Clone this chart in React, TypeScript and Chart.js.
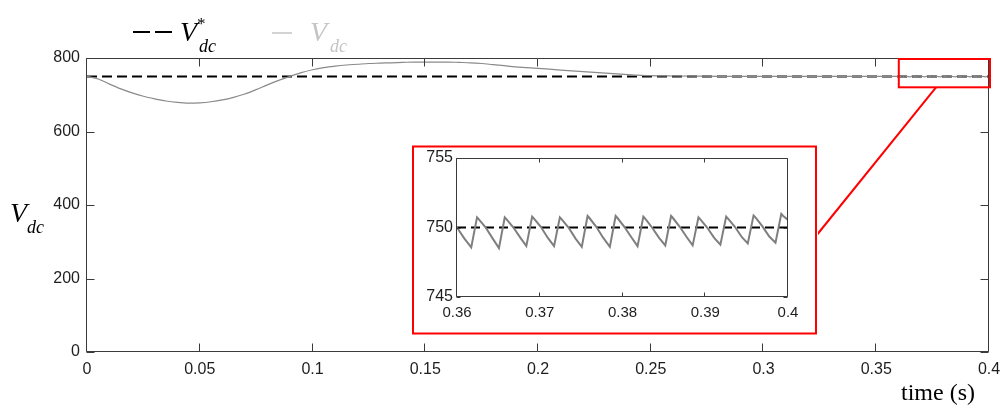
import React, { useEffect, useRef } from "react";
import { Chart, registerables } from "chart.js";

Chart.register(...registerables);

// DC-link voltage response (V) over time (s)
const mainTime = [
  0, 0.005, 0.01, 0.015, 0.02, 0.025, 0.03, 0.035, 0.04, 0.045, 0.05, 0.055, 0.06, 0.065, 0.07,
  0.075, 0.08, 0.085, 0.09, 0.095, 0.1, 0.105, 0.11, 0.115, 0.12, 0.125, 0.13, 0.135, 0.14, 0.145,
  0.15, 0.155, 0.16, 0.165, 0.17, 0.175, 0.18, 0.185, 0.19, 0.195, 0.2, 0.21, 0.22, 0.23, 0.24,
  0.25, 0.26, 0.27, 0.28, 0.29, 0.3, 0.31, 0.32, 0.33, 0.34, 0.35,
];
const mainVolt = [
  750, 743, 729, 716, 705, 696, 689, 683, 679, 677, 678, 681, 686, 693, 702,
  714, 727, 739, 750, 760, 768, 774, 778, 781, 783, 785, 786, 787, 788, 789,
  789, 789, 789, 788, 787, 785, 782, 779, 776, 774, 772, 767, 763, 759, 755,
  752, 751, 750.5, 750.2, 750, 750, 750, 750, 750, 750, 750,
];

// Steady-state ripple, 0.36 s to 0.4 s
const rippleTime = [
  0.36, 0.3609, 0.36172, 0.36242, 0.36262, 0.36347, 0.36432,
  0.36507, 0.36577, 0.36597, 0.36682, 0.36767,
  0.36838, 0.36908, 0.36928, 0.37013, 0.37098,
  0.37173, 0.37243, 0.37263, 0.37348, 0.37433,
  0.37508, 0.37578, 0.37598, 0.37683, 0.37768,
  0.37847, 0.37917, 0.37937, 0.38022, 0.38107,
  0.38182, 0.38252, 0.38272, 0.38357, 0.38442,
  0.38517, 0.38587, 0.38607, 0.38692, 0.38777,
  0.38848, 0.38918, 0.38938, 0.39023, 0.39108,
  0.39183, 0.39253, 0.39273, 0.39358, 0.39443,
  0.39514, 0.39584, 0.39604, 0.39689, 0.39774,
  0.39849, 0.39919, 0.39939, 0.4,
];
const rippleVolt = [
  750.0, 749.2, 748.57, 750.73, 750.6, 750.0, 749.2,
  748.52, 750.73, 750.6, 750.0, 749.25,
  748.66, 750.78, 750.65, 750.05, 749.25,
  748.66, 750.73, 750.6, 750.0, 749.2,
  748.61, 750.83, 750.7, 750.05, 749.25,
  748.61, 750.83, 750.7, 750.05, 749.3,
  748.66, 750.78, 750.65, 750.0, 749.25,
  748.71, 750.83, 750.7, 750.05, 749.3,
  748.71, 750.73, 750.6, 750.0, 749.25,
  748.76, 750.78, 750.65, 750.05, 749.3,
  748.86, 750.87, 750.75, 750.1, 749.35,
  748.9, 750.98, 750.85, 750.55,
];

// Reference voltage V*dc
const refVolt = 750;

// Axis ticks
const xTicks = [0, 0.05, 0.1, 0.15, 0.2, 0.25, 0.3, 0.35, 0.4];
const xTickLabels = ["0", "0.05", "0.1", "0.15", "0.2", "0.25", "0.3", "0.35", "0.4"];
const yTicks = [0, 200, 400, 600, 800];
const yTickLabels = ["0", "200", "400", "600", "800"];

const zoomXTicks = [0.36, 0.37, 0.38, 0.39, 0.4];
const zoomXTickLabels = ["0.36", "0.37", "0.38", "0.39", "0.4"];
const zoomYTicks = [745, 750, 755];
const zoomYTickLabels = ["745", "750", "755"];

// Zoomed window shown in the inset
const zoomWindow = { t0: 0.36, t1: 0.4, vLow: 723, vHigh: 800 };

const SANS = "'Liberation Sans', Arial, sans-serif";
const SERIF = "'Liberation Serif', 'Times New Roman', serif";
const AXIS = "#3a3a3a";
const TRACE = "#8a8a8a";

const toPoints = (xs: number[], ys: number[]) => xs.map((x, i) => ({ x, y: ys[i] }));

const noPadX = (h: number) => (s: any) => {
  s.height = h;
  s.paddingLeft = 0;
  s.paddingRight = 0;
};
const noPadY = (w: number) => (s: any) => {
  s.width = w;
  s.paddingTop = 0;
  s.paddingBottom = 0;
};

function frameAndTicks(chart: any, len: number) {
  const { ctx, chartArea: a, scales } = chart;
  const L = Math.round(a.left) - 0.5;
  const R = Math.round(a.right) - 0.5;
  const T = Math.round(a.top) + 0.5;
  const B = Math.round(a.bottom) - 0.5;
  ctx.save();
  ctx.strokeStyle = AXIS;
  ctx.lineWidth = 1;
  ctx.beginPath();
  ctx.rect(L, T, R - L, B - T);
  for (const t of scales.x.ticks) {
    const px = Math.round(scales.x.getPixelForValue(t.value)) - 0.5;
    ctx.moveTo(px, B);
    ctx.lineTo(px, B - len);
    ctx.moveTo(px, T);
    ctx.lineTo(px, T + len);
  }
  for (const t of scales.y.ticks) {
    const py = Math.round(scales.y.getPixelForValue(t.value)) + 0.5;
    ctx.moveTo(L, py);
    ctx.lineTo(L + len, py);
    ctx.moveTo(R, py);
    ctx.lineTo(R - len, py);
  }
  ctx.stroke();
  ctx.restore();
}

const mainPlugin = {
  id: "mainDecor",
  afterDatasetsDraw(chart: any) {
    const { ctx, scales } = chart;
    frameAndTicks(chart, 8);

    // marker of the zoomed window and its connector to the inset
    const x0 = scales.x.getPixelForValue(zoomWindow.t0);
    const x1 = scales.x.getPixelForValue(zoomWindow.t1);
    const y0 = scales.y.getPixelForValue(zoomWindow.vHigh);
    const y1 = scales.y.getPixelForValue(zoomWindow.vLow);
    ctx.save();
    ctx.strokeStyle = "#ff0000";
    ctx.lineWidth = 2;
    ctx.strokeRect(x0, y0 + 1, x1 - x0 + 1, y1 - y0);
    const cx = scales.x.getPixelForValue(0.3765);
    ctx.beginPath();
    ctx.moveTo(cx, y1 + 1);
    ctx.lineTo(816, 236);
    ctx.stroke();
    ctx.restore();
  },
  afterDraw(chart: any) {
    const { ctx } = chart;
    ctx.save();
    // legend: reference
    ctx.strokeStyle = "#000";
    ctx.lineWidth = 2;
    ctx.beginPath();
    ctx.moveTo(133, 32);
    ctx.lineTo(150, 32);
    ctx.moveTo(155, 32);
    ctx.lineTo(172, 32);
    ctx.stroke();
    ctx.fillStyle = "#000";
    ctx.textBaseline = "alphabetic";
    ctx.font = `italic 28px ${SERIF}`;
    ctx.fillText("V", 180, 41);
    ctx.font = `italic 18px ${SERIF}`;
    ctx.fillText("dc", 199, 52);
    ctx.font = `17px ${SERIF}`;
    ctx.fillText("*", 197, 29);

    // legend: measured
    ctx.strokeStyle = "#c4c4c4";
    ctx.lineWidth = 1.5;
    ctx.beginPath();
    ctx.moveTo(272, 33);
    ctx.lineTo(292, 33);
    ctx.stroke();
    ctx.fillStyle = "#c4c4c4";
    ctx.font = `italic 28px ${SERIF}`;
    ctx.fillText("V", 310, 41);
    ctx.font = `italic 18px ${SERIF}`;
    ctx.fillText("dc", 330, 52);

    // y title
    ctx.fillStyle = "#000";
    ctx.font = `italic 28px ${SERIF}`;
    ctx.fillText("V", 10, 222);
    ctx.font = `italic 18px ${SERIF}`;
    ctx.fillText("dc", 27, 233);

    // x title
    ctx.font = `24px ${SERIF}`;
    ctx.fillText("time (s)", 901, 400);
    ctx.restore();
  },
};

const insetPlugin = {
  id: "insetDecor",
  beforeDraw(chart: any) {
    const { ctx, width, height } = chart;
    ctx.save();
    ctx.fillStyle = "#fff";
    ctx.fillRect(0, 0, width, height);
    ctx.restore();
  },
  afterDatasetsDraw(chart: any) {
    frameAndTicks(chart, 4);
  },
  afterDraw(chart: any) {
    const { ctx, width, height } = chart;
    ctx.save();
    ctx.strokeStyle = "#ff0000";
    ctx.lineWidth = 2;
    ctx.strokeRect(1, 1.5, width - 3, height - 3);
    ctx.restore();
  },
};

const hiddenGrid = { display: false, drawTicks: false, tickLength: 0 };

function MainChart() {
  const ref = useRef<HTMLCanvasElement | null>(null);
  useEffect(() => {
    if (!ref.current) return;
    const chart = new Chart(ref.current, {
      type: "line",
      data: {
        datasets: [
          {
            label: "Vdc",
            data: toPoints(mainTime.concat(rippleTime), mainVolt.concat(rippleVolt)),
            borderColor: TRACE,
            borderWidth: 1.2,
            pointRadius: 0,
            cubicInterpolationMode: "monotone",
          },
          {
            label: "Vdc*",
            data: toPoints([0, 0.4], [refVolt, refVolt]),
            borderColor: "#000",
            borderWidth: 2,
            borderDash: [10, 5],
            pointRadius: 0,
          },
        ],
      },
      options: {
        responsive: false,
        animation: false,
        devicePixelRatio: 1,
        layout: { padding: { top: 58, right: 15, left: 0, bottom: 0 } },
        plugins: { legend: { display: false }, tooltip: { enabled: false } },
        scales: {
          x: {
            type: "linear",
            min: 0,
            max: 0.4,
            grid: hiddenGrid,
            border: { display: false },
            afterBuildTicks: (s: any) => {
              s.ticks = xTicks.map((v) => ({ value: v }));
            },
            afterFit: noPadX(54),
            ticks: {
              autoSkip: false,
              maxRotation: 0,
              padding: 8,
              color: "#1e1e1e",
              font: { family: SANS, size: 16 },
              callback: (_v: any, i: number) => xTickLabels[i],
            },
          },
          y: {
            type: "linear",
            min: 0,
            max: 800,
            grid: hiddenGrid,
            border: { display: false },
            afterBuildTicks: (s: any) => {
              s.ticks = yTicks.map((v) => ({ value: v }));
            },
            afterFit: noPadY(87),
            ticks: {
              padding: 7,
              color: "#1e1e1e",
              font: { family: SANS, size: 16 },
              callback: (_v: any, i: number) => yTickLabels[i],
            },
          },
        },
      },
      plugins: [mainPlugin],
    } as any);
    return () => chart.destroy();
  }, []);
  return <canvas ref={ref} width={1004} height={406} style={{ position: "absolute", left: 0, top: 0 }} />;
}

function InsetChart() {
  const ref = useRef<HTMLCanvasElement | null>(null);
  useEffect(() => {
    if (!ref.current) return;
    const chart = new Chart(ref.current, {
      type: "line",
      data: {
        datasets: [
          {
            label: "Vdc",
            data: toPoints(rippleTime, rippleVolt),
            borderColor: "#7f7f7f",
            borderWidth: 2,
            pointRadius: 0,
            tension: 0,
          },
          {
            label: "Vdc*",
            data: toPoints([0.36, 0.4], [refVolt, refVolt]),
            borderColor: "#000",
            borderWidth: 2,
            borderDash: [9, 5],
            pointRadius: 0,
          },
        ],
      },
      options: {
        responsive: false,
        animation: false,
        devicePixelRatio: 1,
        layout: { padding: { top: 13, right: 30, left: 0, bottom: 0 } },
        plugins: { legend: { display: false }, tooltip: { enabled: false } },
        scales: {
          x: {
            type: "linear",
            min: 0.36,
            max: 0.4,
            grid: hiddenGrid,
            border: { display: false },
            afterBuildTicks: (s: any) => {
              s.ticks = zoomXTicks.map((v) => ({ value: v }));
            },
            afterFit: noPadX(38),
            ticks: {
              autoSkip: false,
              maxRotation: 0,
              padding: 7,
              color: "#1e1e1e",
              font: { family: SANS, size: 15 },
              callback: (_v: any, i: number) => zoomXTickLabels[i],
            },
          },
          y: {
            type: "linear",
            min: 745,
            max: 755,
            grid: hiddenGrid,
            border: { display: false },
            afterBuildTicks: (s: any) => {
              s.ticks = zoomYTicks.map((v) => ({ value: v }));
            },
            afterFit: noPadY(45),
            ticks: {
              padding: 4,
              color: "#1e1e1e",
              font: { family: SANS, size: 16 },
              callback: (_v: any, i: number) => zoomYTickLabels[i],
            },
          },
        },
      },
      plugins: [insetPlugin],
    } as any);
    return () => chart.destroy();
  }, []);
  return <canvas ref={ref} width={406} height={190} style={{ position: "absolute", left: 412, top: 145 }} />;
}

export default function App() {
  return (
    <div style={{ position: "fixed", left: 0, top: 0, width: 1004, height: 406, background: "#fff" }}>
      <MainChart />
      <InsetChart />
    </div>
  );
}
